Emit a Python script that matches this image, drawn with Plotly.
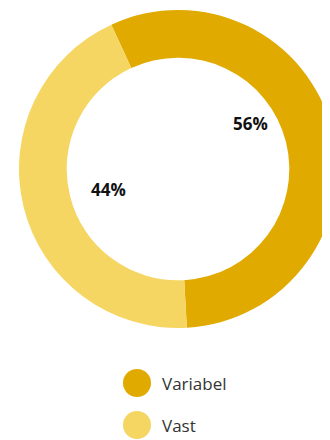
import plotly.graph_objects as go

labels = ["Variabel", "Vast"]
values = [56, 44]
colors = ["#E0AA00", "#F5D662"]

# page is drawn with an 8px body offset; coordinates below are figure pixels
OFF = 8
FW, H = 345, 440
cx, cy, R = 178 - OFF, 169 - OFF, 159

fig = go.Figure()
fig.add_trace(go.Pie(
    labels=labels, values=values, hole=0.70, sort=False, direction="clockwise",
    rotation=-24.8, marker=dict(colors=colors, line=dict(width=0)),
    textinfo="none", hoverinfo="label+percent", showlegend=False,
    domain=dict(x=[(cx - R) / FW, (cx + R) / FW], y=[1 - (cy + R) / H, 1 - (cy - R) / H]),
))

total = sum(values)
label_pos = [(250 - OFF, 123 - OFF), (108 - OFF, 190 - OFF)]
for v, (px, py) in zip(values, label_pos):
    fig.add_annotation(x=px / FW, y=1 - py / H, xref="paper", yref="paper",
                       xanchor="center", yanchor="middle",
                       text=f"<b>{v / total * 100:.0f}%</b>", showarrow=False,
                       font=dict(family="Open Sans, sans-serif", size=17, color="#111"))

leg_y = [383 - OFF, 425 - OFF]
lx = 137 - OFF
for lab, col, ly in zip(labels, colors, leg_y):
    r = 14
    fig.add_shape(type="circle", xref="paper", yref="paper",
                  x0=(lx - r) / FW, x1=(lx + r) / FW, y0=1 - (ly + r) / H, y1=1 - (ly - r) / H,
                  fillcolor=col, line=dict(width=0))
    fig.add_annotation(x=(160 - OFF) / FW, y=1 - ly / H, xref="paper", yref="paper",
                       xanchor="left", yanchor="middle",
                       text=lab, showarrow=False,
                       font=dict(family="Open Sans, sans-serif", size=17, color="#333"))

fig.update_layout(width=FW, height=H, margin=dict(l=0, r=0, t=0, b=0),
                  paper_bgcolor="white", plot_bgcolor="white")
fig.write_html("out.html")
